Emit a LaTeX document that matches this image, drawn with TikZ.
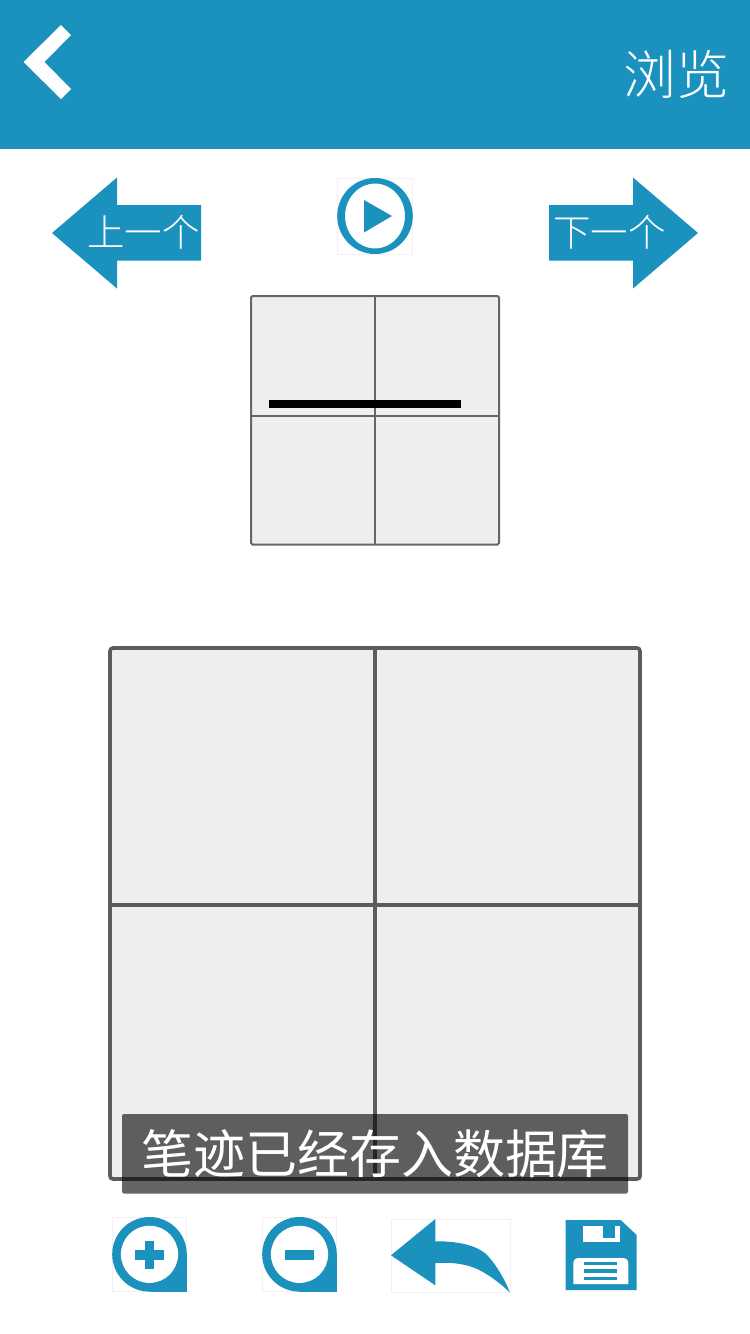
\documentclass[tikz,border=0pt]{standalone}
\usepackage{fontspec}
\newfontfamily\cjk{Noto Sans CJK SC}
\newfontfamily\cjklight{Noto Sans CJK SC Light}
\definecolor{appblue}{HTML}{1B91BE}
\definecolor{gridfill}{HTML}{EEEEEE}
\definecolor{gridline}{HTML}{5C5C5C}
\definecolor{gridthin}{HTML}{666666}
\definecolor{iconedge}{HTML}{F4EFF4}
\tikzset{
  blue shape/.style={fill=appblue,draw=none},
  icon frame/.style={draw=iconedge,line width=0.7pt,fill=white},
  arrow label/.style={text=white,inner sep=0pt,font=\cjklight\fontsize{37.5}{37.5}\selectfont},
  title label/.style={text=white,inner sep=0pt,font=\cjklight\fontsize{53}{53}\selectfont},
  toast label/.style={text=white,inner sep=0pt,font=\cjk\fontsize{52}{52}\selectfont},
}
\begin{document}
\begin{tikzpicture}[x=1pt,y=-1pt]
\useasboundingbox (0,0) rectangle (750,1334);
\fill[white] (0,0) rectangle (750,1334);
% header
\fill[appblue] (0,0) rectangle (750,149);
\fill[white] (61,25) -- (71,35) -- (44.5,62) -- (71,89) -- (61,99) -- (23.5,62) -- cycle;
\node[title label] (title) at (676,74) {浏览};
% prev arrow
\path[blue shape] (52,233) -- (117,177.5) -- (117,205) -- (201,205) -- (201,260.5) -- (117,260.5) -- (117,288.5) -- cycle;
\node[arrow label] (prev) at (143.5,232) {上一个};
% next arrow
\path[blue shape] (698,233) -- (633,177.5) -- (633,205) -- (549,205) -- (549,260.5) -- (633,260.5) -- (633,288.5) -- cycle;
\node[arrow label] (next) at (609.5,232) {下一个};
% play
\draw[icon frame] (337,178) rectangle (412.5,254);
\path[blue shape,even odd rule] (375,216) circle[x radius=37.8,y radius=38] (375,216) circle[x radius=30,y radius=32.5];
\path[blue shape] (364,200) -- (392,216) -- (364,232.5) -- cycle;
% small grid
\draw[fill=gridfill,draw=gridthin,line width=2pt,rounded corners=1.5pt] (251,296) rectangle (499,544.5);
\draw[gridthin,line width=2pt] (374.7,296) -- (374.7,544.5);
\draw[gridthin,line width=2pt] (251,416.3) -- (499,416.3);
\fill[black] (269,400) rectangle (461,408);
% large grid
\draw[fill=gridfill,draw=gridline,line width=3.6pt,rounded corners=3pt] (110,648) rectangle (640,1179);
\draw[gridline,line width=3.6pt] (374.7,648) -- (374.7,1179);
\draw[gridline,line width=3.6pt] (110,905) -- (640,905);
% toast
\fill[black!98!green,fill opacity=0.61,rounded corners=2pt] (122,1114) rectangle (628,1193.5);
\node[toast label] (toast) at (375,1153.5) {笔迹已经存入数据库};
% zoom in
\draw[icon frame] (112.3,1217) rectangle (186.8,1291.7);
\fill[appblue] (149.5,1254.3) circle[radius=37.3];
\fill[appblue] (149.5,1254.3) rectangle (186.8,1291.7);
\fill[white] (149.5,1254.3) circle[radius=28.6];
\fill[appblue] (135,1250.3) rectangle (164,1259.7);
\fill[appblue] (145,1240.7) rectangle (154.4,1269.2);
% zoom out
\draw[icon frame] (262.3,1217) rectangle (336.8,1291.7);
\fill[appblue] (299.5,1254.3) circle[radius=37.3];
\fill[appblue] (299.5,1254.3) rectangle (336.8,1291.7);
\fill[white] (299.5,1254.3) circle[radius=28.6];
\fill[appblue] (285.3,1250.3) rectangle (314.3,1259.7);
% back arrow
\draw[icon frame] (391,1219) rectangle (510,1292.6);
\path[blue shape] (391,1255.3) -- (435.3,1219) -- (435.3,1241.3)
  .. controls (462,1241) and (480,1247) .. (488,1256)
  .. controls (497,1266) and (505,1280) .. (510,1292.6)
  .. controls (498,1281) and (486,1273) .. (476,1268.5)
  .. controls (464,1263.5) and (450,1262) .. (435.3,1263)
  -- (435.3,1285.3) -- cycle;
% save
\path[blue shape] (565.7,1220) -- (620.7,1220) -- (636.7,1235) -- (636.7,1290) -- (565.7,1290) -- cycle;
\fill[white] (582.7,1225.7) rectangle (620,1242.3);
\fill[appblue] (603.3,1225.7) rectangle (615,1237.7);
\fill[white] (573.3,1284) -- (573.3,1264) .. controls (573.3,1260) and (575,1258) .. (579,1258) -- (622.6,1258) .. controls (626.6,1258) and (628.3,1260) .. (628.3,1264) -- (628.3,1284) -- cycle;
\fill[appblue] (584.3,1261.7) rectangle (617.3,1265);
\fill[appblue] (584.3,1269.3) rectangle (617.3,1272.7);
\fill[appblue] (584.3,1276.7) rectangle (617.3,1280);
\end{tikzpicture}
\end{document}
